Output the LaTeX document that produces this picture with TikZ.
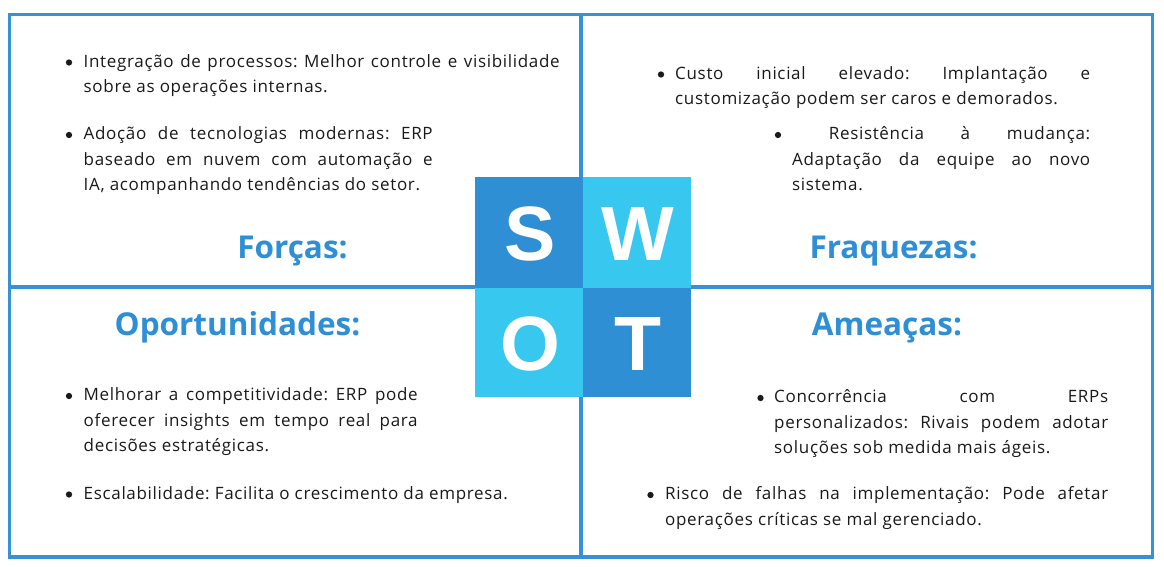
\documentclass[tikz,border=0pt]{standalone}
\usepackage{fontspec}
\setmainfont{Open Sans}[LetterSpace=4]
\newfontfamily\headfont{Open Sans}
\newfontfamily\letterfont{Liberation Sans}
\definecolor{framecol}{HTML}{3592D8}
\definecolor{darksq}{HTML}{2E8FD5}
\definecolor{lightsq}{HTML}{38C8EF}
\definecolor{titlecol}{HTML}{2F8FD6}
\definecolor{textcol}{HTML}{1A1A1A}
\newcommand{\bodyfont}{\fontsize{17}{25.5}\selectfont\frenchspacing}
\newcommand{\jl}[2]{\makebox[#1pt][s]{#2}}
\newcommand{\para}[2]{\parbox[t]{#1pt}{\bodyfont #2}}
\tikzset{
  frame/.style={draw=framecol, line width=3.4pt},
  body/.style={inner sep=0pt, anchor=base west, text=textcol, font=\bodyfont},
  bul/.style={circle, fill=textcol, inner sep=0pt, minimum size=6.3pt},
  heading/.style={inner sep=0pt, anchor=base, text=titlecol, font=\headfont\fontsize{31.5}{36}\selectfont\bfseries},
  letter/.style={inner sep=0pt, anchor=base, text=white, font=\letterfont\fontsize{77}{80}\selectfont\bfseries},
}
\begin{document}
\begin{tikzpicture}[x=1pt,y=-1pt]
\useasboundingbox (0,0) rectangle (1164,566);
\fill[white] (0,0) rectangle (1164,566);
% frame and dividers
\draw[frame] (9.3,14.3) rectangle (1152.5,557);
\draw[frame] (581,14.3) -- (581,557);
\draw[frame] (9.3,287) -- (1152.5,287);
% SWOT squares
\fill[darksq] (475,177) rectangle (582.5,287.5);
\fill[lightsq] (582.5,177) rectangle (690.5,287.5);
\fill[lightsq] (475,287.5) rectangle (582.5,396.5);
\fill[darksq] (582.5,287.5) rectangle (690.5,396.5);
\node[letter] (S) at (530,260) {S};
\node[letter] (W) at (638,260) {W};
\node[letter] (O) at (530,370) {O};
\node[letter] (T) at (638.5,370) {T};
% Forças
\node[bul] (f1b) at (69,62.5) {};
\node[body] (f1) at (83.5,67) {\para{476}{\jl{476}{Integração de processos: Melhor controle e visibilidade}\\sobre as operações internas.}};
\node[bul] (f2b) at (69,135) {};
\node[body] (f2) at (83.5,139.5) {\para{349}{\jl{349}{Adoção de tecnologias modernas: ERP}\\\jl{349}{baseado em nuvem com automação e}\\IA, acompanhando tendências do setor.}};
\node[heading] (fh) at (292.5,258) {Forças:};
% Fraquezas
\node[bul] (w1b) at (661,74.5) {};
\node[body] (w1) at (675,79) {\para{415}{\jl{415}{Custo inicial elevado: Implantação e}\\customização podem ser caros e demorados.}};
\node[bul] (w2b) at (778,135) {};
\node[body] (w2) at (792,139.5) {\para{298}{\jl{298}{\ Resistência à mudança:}\\\jl{298}{Adaptação da equipe ao novo}\\sistema.}};
\node[heading] (wh) at (893.5,258) {Fraquezas:};
% Oportunidades
\node[heading] (oh) at (237.5,335) {Oportunidades:};
\node[bul] (o1b) at (69,396) {};
\node[body] (o1) at (83.5,400.5) {\para{334}{\jl{334}{Melhorar a competitividade: ERP pode}\\\jl{334}{oferecer insights em tempo real para}\\decisões estratégicas.}};
\node[bul] (o2b) at (69,494.5) {};
\node[body] (o2) at (83.5,499) {Escalabilidade: Facilita o crescimento da empresa.};
% Ameaças
\node[heading] (th) at (887,335) {Ameaças:};
\node[bul] (t1b) at (760.5,398) {};
\node[body] (t1) at (774,402.5) {\para{334}{\jl{334}{Concorrência com ERPs}\\\jl{334}{personalizados: Rivais podem adotar}\\soluções sob medida mais ágeis.}};
\node[bul] (t2b) at (650.5,495) {};
\node[body] (t2) at (665,499.5) {\para{443}{\jl{443}{Risco de falhas na implementação: Pode afetar}\\operações críticas se mal gerenciado.}};
\end{tikzpicture}
\end{document}
